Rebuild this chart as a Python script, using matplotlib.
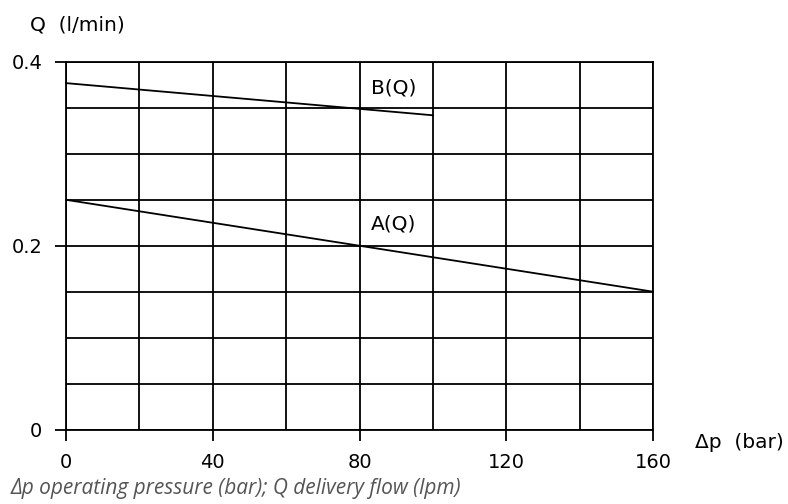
import numpy as np
import matplotlib.pyplot as plt
from matplotlib.ticker import MultipleLocator

# pressure (bar) and delivery flow (l/min) for the two curves
dp_a = [0, 160]
q_a = [0.25, 0.15]
dp_b = [0, 100]
q_b = [0.377, 0.342]

x_ticks = [0, 40, 80, 120, 160]
y_ticks = [0, 0.2, 0.4]
y_ticklabels = ["0", "0.2", "0.4"]

fig = plt.figure(figsize=(7.88, 5.04), dpi=100)
ax = fig.add_axes([0.0838, 0.1478, 0.7449, 0.7292])

ax.set_xlim(0, 160)
ax.set_ylim(0, 0.4)

lw = 1.3
for s in ax.spines.values():
    s.set_linewidth(lw)
    s.set_color("black")

ax.xaxis.set_minor_locator(MultipleLocator(20))
ax.yaxis.set_minor_locator(MultipleLocator(0.05))
ax.set_xticks(x_ticks)
ax.set_yticks(y_ticks)
ax.set_yticklabels(y_ticklabels)
ax.grid(which="both", color="black", linewidth=lw)
ax.tick_params(which="major", length=8, width=lw, labelsize=14, pad=9)
ax.tick_params(which="minor", length=0)
ax.set_axisbelow(True)

ax.plot(dp_a, q_a, color="black", linewidth=lw, clip_on=False)
ax.plot(dp_b, q_b, color="black", linewidth=lw, clip_on=False)

ax.text(89.4, 0.372, "B(Q)", fontsize=14.5, ha="center", va="center")
ax.text(89.4, 0.224, "A(Q)", fontsize=14.5, ha="center", va="center")

fig.text(0.038, 0.95, "Q  (l/min)", fontsize=14.5, va="center")
fig.text(0.882, 0.122, "\u0394p  (bar)", fontsize=14.5, va="center")
fig.text(0.013, 0.03, "\u0394p operating pressure (bar); Q delivery flow (lpm)",
         fontsize=15, style="italic", color="#555555", family="Open Sans", va="center")

fig.savefig("out.png", dpi=100)
